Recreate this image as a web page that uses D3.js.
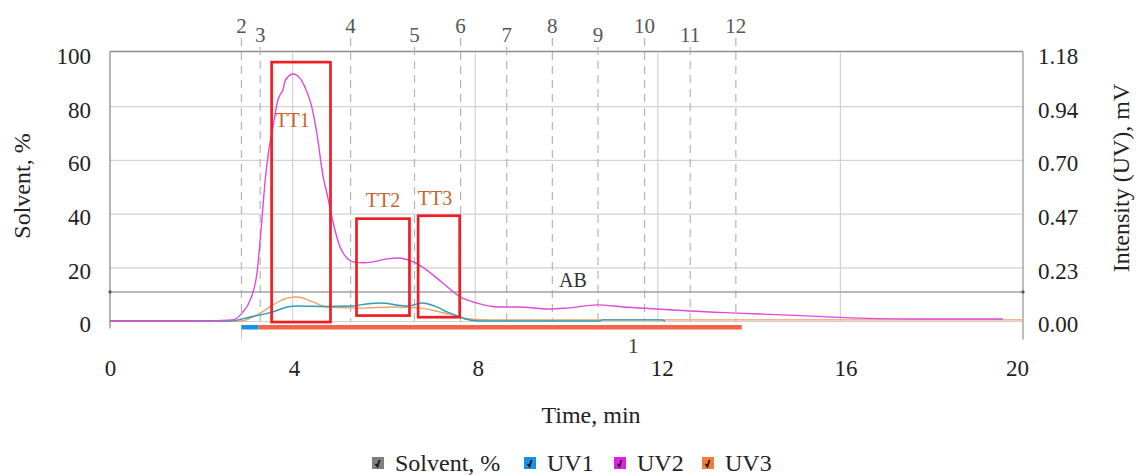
<!DOCTYPE html>
<html><head><meta charset="utf-8">
<script src="https://cdn.jsdelivr.net/npm/d3@7"></script>
<style>
html,body{margin:0;padding:0;background:#fff;}
svg{display:block;font-family:"Liberation Serif","Times New Roman",serif;}
</style></head>
<body>
<svg id="chart" width="1136" height="475"></svg>
<script>
// ---- data ----
const timeTicks = [0, 4, 8, 12, 16, 20];
const solventTicks = [0, 20, 40, 60, 80, 100];
const uvTickValues = [0, 0.236, 0.472, 0.708, 0.944, 1.18];
const uvTickLabels = ["0.00", "0.23", "0.47", "0.70", "0.94", "1.18"];

// solvent (%) — isocratic
const solvent = [[0, 11], [20, 11]];

// UV traces: [time (min), intensity (mV)]
const uv2 = [[0,0.002],[1.97,0.002],[2.69,0.007],[2.89,0.037],[3.07,0.094],[3.22,0.213],[3.29,0.358],[3.35,0.503],[3.40,0.622],[3.48,0.754],[3.57,0.855],[3.68,0.975],[3.75,1.005],[3.78,1.012],[3.83,1.055],[3.94,1.083],[4.01,1.088],[4.12,1.079],[4.27,1.030],[4.42,0.943],[4.53,0.828],[4.67,0.635],[4.75,0.565],[4.89,0.433],[5.04,0.327],[5.19,0.279],[5.32,0.262],[5.55,0.258],[5.76,0.262],[6.07,0.275],[6.31,0.279],[6.64,0.262],[6.94,0.226],[7.29,0.169],[7.67,0.108],[8.04,0.081],[8.54,0.064],[8.92,0.064],[9.64,0.055],[10.01,0.059],[10.67,0.073],[11.24,0.064],[11.98,0.055],[12.71,0.046],[13.73,0.037],[14.74,0.029],[16.43,0.015],[17.81,0.011],[19.56,0.011]];
const uv1 = [[0,0.002],[2.63,0.002],[3.07,0.020],[3.57,0.042],[3.88,0.064],[4.10,0.068],[4.75,0.066],[5.32,0.068],[5.48,0.073],[5.91,0.081],[6.51,0.068],[6.83,0.081],[7.16,0.064],[7.38,0.042],[7.62,0.024],[7.78,0.011],[8.10,0.002],[10.73,0.002],[10.78,0.007],[12.09,0.007],[12.16,0.002]];
const uv3 = [[0,0.002],[2.85,0.002],[3.29,0.037],[3.57,0.073],[3.88,0.103],[4.10,0.108],[4.45,0.086],[4.75,0.064],[5.48,0.059],[6.20,0.064],[6.79,0.059],[7.23,0.042],[7.67,0.020],[7.89,0.011],[8.32,0.007],[20,0.007]];

// fraction markers
const fractionLabels = ["2","3","4","5","6","7","8","9","10","11","12"];
const fractionTimes  = [2.88,3.29,5.27,6.67,7.68,8.69,9.69,10.69,11.71,12.71,13.71];

// collected zones (time range, solvent-% range)
const zoneNames = ["TT1","TT2","TT3"];
const zoneT0 = [3.54, 5.40, 6.75];
const zoneT1 = [4.83, 6.56, 7.66];
const zoneY0 = [-0.2, 2.2, 1.6];
const zoneY1 = [96.6, 38.3, 39.4];
const zoneLabelT = [4.0, 5.98, 7.12];
const zoneLabelY = [72.5, 42.5, 43.3];

// collection bars (time ranges)
const barT0 = [2.88, 3.25];
const barT1 = [3.25, 13.84];

const seriesNames = ["Solvent, %", "UV1", "UV2", "UV3"];

// ---- drawing ----
const svg = d3.select("#chart");
const x = d3.scaleLinear([0, 20], [110, 1023]);
const yL = d3.scaleLinear([0, 100], [321.5, 53]);
const yR = d3.scaleLinear([0, 1.18], [321.5, 53]);

const FS = 23;

// grid
const g = svg.append("g");
g.selectAll(".hg").data(solventTicks.filter(d => d < 100)).join("line")
  .attr("x1", x(0)).attr("x2", x(20))
  .attr("y1", d => yL(d)).attr("y2", d => yL(d))
  .attr("stroke", "#d2d2d2").attr("stroke-width", 1.2);
g.selectAll(".vg").data(timeTicks.filter(d => d > 0 && d < 20)).join("line")
  .attr("x1", d => x(d)).attr("x2", d => x(d))
  .attr("y1", yL(100)).attr("y2", yL(0))
  .attr("stroke", "#d2d2d2").attr("stroke-width", 1.2);

// frame: top, left, right
g.append("line").attr("x1", x(0)).attr("x2", x(20)).attr("y1", yL(100)-1.5).attr("y2", yL(100)-1.5)
  .attr("stroke", "#8c8c8c").attr("stroke-width", 1.5);
g.append("line").attr("x1", x(0)).attr("x2", x(0)).attr("y1", yL(100)-1.5).attr("y2", yL(0)+7)
  .attr("stroke", "#8c8c8c").attr("stroke-width", 1.3);
g.append("line").attr("x1", x(20)).attr("x2", x(20)).attr("y1", yL(100)-1.5).attr("y2", yL(0)+18)
  .attr("stroke", "#9a9a9a").attr("stroke-width", 1.3);

// fraction dashed lines & labels
fractionTimes.forEach((t, i) => {
  const base = i % 2 === 0 ? 33 : 42;
  g.append("line").attr("x1", x(t)).attr("x2", x(t))
    .attr("y1", base + 5).attr("y2", yL(0))
    .attr("stroke", "#b4b4b4").attr("stroke-width", 1.2).attr("stroke-dasharray", "8,6");
  g.append("text").attr("x", x(t)).attr("y", base).attr("text-anchor", "middle")
    .attr("font-size", 21).attr("fill", "#555").text(fractionLabels[i]);
});

// faint separator under bars
g.append("line").attr("x1", x(barT0[0])).attr("x2", x(barT0[0]))
  .attr("y1", yL(0)+3).attr("y2", yL(0)+18).attr("stroke", "#c8c8c8").attr("stroke-width", 1);

// solvent line
const lineL = d3.line().x(d => x(d[0])).y(d => yL(d[1]));
const lineR = d3.line().x(d => x(d[0])).y(d => yR(d[1])).curve(d3.curveMonotoneX);
g.append("path").attr("d", lineL(solvent)).attr("fill", "none")
  .attr("stroke", "#a0a0a0").attr("stroke-width", 1.6);
g.selectAll(".sd").data(solvent).join("circle")
  .attr("cx", d => x(d[0])).attr("cy", d => yL(d[1])).attr("r", 1.6).attr("fill", "#555");
g.append("text").attr("x", x(10.14)).attr("y", yL(solvent[0][1]) - 5).attr("text-anchor", "middle")
  .attr("font-size", 20).attr("fill", "#333").text("AB");

// UV traces
g.append("path").attr("d", lineR(uv3)).attr("fill", "none").attr("stroke", "#f0a06c").attr("stroke-width", 1.4);
g.append("path").attr("d", lineR(uv1)).attr("fill", "none").attr("stroke", "#2a9db2").attr("stroke-width", 1.4);
g.append("path").attr("d", lineR(uv2)).attr("fill", "none").attr("stroke", "#e04ad6").attr("stroke-width", 1.4);

// bars
const barColors = ["#1b8fe2", "#f2654a"];
g.selectAll(".bar").data(barT0).join("rect")
  .attr("x", (d, i) => x(d)).attr("width", (d, i) => x(barT1[i]) - x(d))
  .attr("y", yL(0) + 3.5).attr("height", 4.5)
  .attr("fill", (d, i) => barColors[i]);
g.append("text").attr("x", x(11.46)).attr("y", yL(0) + 31).attr("text-anchor", "middle")
  .attr("font-size", 22).attr("fill", "#444").text("1");

// zones
zoneNames.forEach((n, i) => {
  g.append("rect").attr("x", x(zoneT0[i])).attr("y", yL(zoneY1[i]))
    .attr("width", x(zoneT1[i]) - x(zoneT0[i])).attr("height", yL(zoneY0[i]) - yL(zoneY1[i]))
    .attr("fill", "none").attr("stroke", "#f01e24").attr("stroke-width", 2.7);
  g.append("text").attr("x", x(zoneLabelT[i])).attr("y", yL(zoneLabelY[i]))
    .attr("text-anchor", "middle").attr("font-size", 20).attr("fill", "#c8642c").text(n);
});

// axes
const ax = svg.append("g").attr("transform", `translate(0,${yL(0)})`)
  .call(d3.axisBottom(x).tickValues(timeTicks).tickSize(0).tickPadding(0).tickFormat(d3.format("d")));
ax.select(".domain").remove();
ax.selectAll("text").attr("dy", 0).attr("y", 54.5).attr("font-size", FS)
  .attr("font-family", "Liberation Serif, serif").attr("fill", "#222")
  .attr("dx", (d, i) => i === timeTicks.length - 1 ? -6 : (d / 4) * 1.3);

const al = svg.append("g").attr("transform", `translate(${x(0)},0)`)
  .call(d3.axisLeft(yL).tickValues(solventTicks).tickSize(0).tickPadding(19));
al.select(".domain").remove();
al.selectAll("text").attr("dy", "0.32em").attr("y", 3).attr("font-size", FS)
  .attr("font-family", "Liberation Serif, serif").attr("fill", "#222");

const ar = svg.append("g").attr("transform", `translate(${x(20)},0)`)
  .call(d3.axisRight(yR).tickValues(uvTickValues).tickSize(0).tickPadding(15)
    .tickFormat((d, i) => uvTickLabels[i]));
ar.select(".domain").remove();
ar.selectAll("text").attr("dy", "0.32em").attr("y", 3).attr("font-size", FS)
  .attr("font-family", "Liberation Serif, serif").attr("fill", "#222");

// axis titles
svg.append("text").attr("transform", "translate(30,186) rotate(-90)").attr("text-anchor", "middle")
  .attr("font-size", 24).attr("fill", "#222").text("Solvent, %");
svg.append("text").attr("transform", "translate(1129,178) rotate(-90)").attr("text-anchor", "middle")
  .attr("font-size", 24).attr("fill", "#222").text("Intensity (UV), mV");
svg.append("text").attr("x", 591).attr("y", 423).attr("text-anchor", "middle")
  .attr("font-size", 24).attr("fill", "#222").text("Time, min");

// legend
const legColors = ["#7f7f7f", "#1b8fe2", "#e21ee2", "#f27a3a"];
const legBoxX = [372, 524, 614, 702];
const leg = svg.append("g");
seriesNames.forEach((n, i) => {
  const bx = legBoxX[i], by = 457;
  leg.append("rect").attr("x", bx).attr("y", by).attr("width", 12).attr("height", 12).attr("fill", legColors[i]);
  leg.append("path").attr("d", `M${bx+3.5},${by+7} L${bx+5.5},${by+9.5} L${bx+7.5},${by+3}`)
    .attr("fill", "none").attr("stroke", "#111").attr("stroke-width", 1.6);
  leg.append("text").attr("x", bx + 23).attr("y", 471).attr("font-size", 24).attr("fill", "#222").text(n);
});
</script>
</body></html>
